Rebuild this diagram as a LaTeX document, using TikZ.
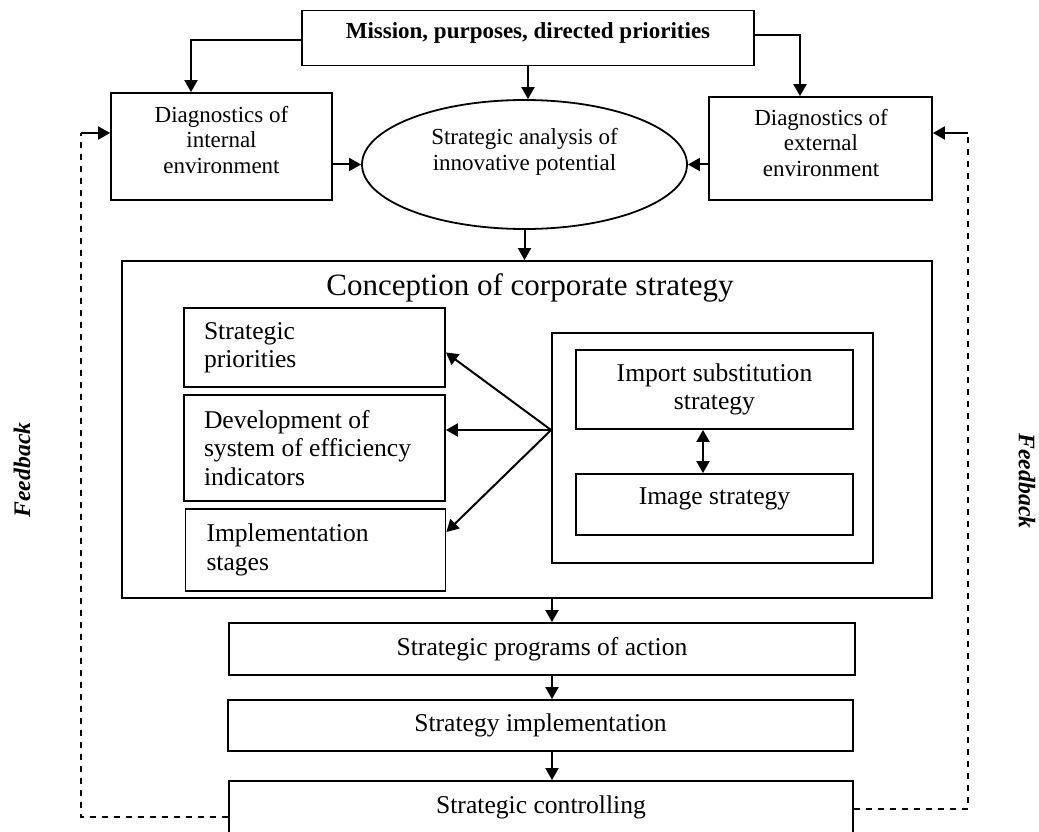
\documentclass[tikz,border=0pt]{standalone}
\usepackage{fontspec}
\setmainfont{Liberation Serif}
\usetikzlibrary{arrows.meta,shapes.geometric,calc}
\tikzset{
  box/.style={draw, line width=1.8pt, inner sep=0pt, align=center},
  sz/.style 2 args={minimum width=#1, minimum height=#2},
  conn/.style={line width=2pt, -{Triangle[length=12pt,width=13pt]}},
  dconn/.style={line width=2pt, {Triangle[length=12pt,width=13pt]}-{Triangle[length=12pt,width=13pt]}},
  fb/.style={line width=1.6pt, dash pattern=on 6pt off 6pt},
  fsmall/.style={font=\fontsize{23}{25.5}\selectfont},
  fmed/.style={font=\fontsize{25.6}{28.5}\selectfont},
  fbig/.style={font=\fontsize{31}{36}\selectfont},
  lbl/.style={inner sep=0pt, align=center},
  lbox/.style={box, fmed, align=flush left, inner xsep=20pt},
}
\begin{document}
\begin{tikzpicture}[x=1pt,y=-1pt]
\path[use as bounding box, clip] (0,0) rectangle (1039,832);
% top row
\node[box, sz={452pt}{55pt}] (mis) at (528,38) {};
\node[lbl, font=\fontsize{23}{25.5}\selectfont\bfseries] (misT) at (528,33) {Mission, purposes, directed priorities};
\node[box, sz={221pt}{107pt}] (int) at (221.5,146.5) {};
\node[lbl, fsmall] (intT) at (221.5,140) {Diagnostics of\\internal\\environment};
\node[box, sz={223pt}{103pt}] (ext) at (820.5,148.5) {};
\node[lbl, fsmall] (extT) at (821,143) {Diagnostics of\\external\\environment};
\node[draw, ellipse, line width=1.8pt, inner sep=0pt, sz={325pt}{129pt}] (ell) at (524.5,164.5) {};
\node[lbl, fsmall] (ellT) at (524.5,152) {Strategic analysis of\\innovative potential};
% conception
\node[box, sz={810pt}{337pt}] (con) at (527,429.5) {};
\node[lbl, fbig] (conT) at (530,288) {Conception of corporate strategy};
\node[lbox, sz={261pt}{79pt}, text width=221pt] (pri) at (314.5,347.5) {Strategic\\priorities};
\node[lbox, sz={261pt}{106pt}, text width=221pt] (dev) at (314.5,448) {Development of\\system of efficiency\\indicators};
\node[lbox, sz={259pt}{82pt}, text width=218pt, inner xsep=21pt] (stg) at (315.5,550) {Implementation\\stages};
\node[box, sz={321pt}{230pt}] (grp) at (712.5,448) {};
\node[box, fmed, sz={277pt}{79pt}] (imps) at (714.5,389.5) {Import substitution\\strategy};
\node[box, sz={277pt}{61pt}] (img) at (714.5,504.5) {};
\node[lbl, fmed] (imgT) at (714.5,499) {Image strategy};
% bottom
\node[box, fmed, sz={626pt}{52pt}] (prg) at (542,649) {Strategic programs of action};
\node[box, fmed, sz={625pt}{51pt}] (sim) at (540.5,725.5) {Strategy implementation};
\node[box, sz={624pt}{76pt}] (ctl) at (541,819) {};
\node[lbl, fmed] (ctlT) at (541,807) {Strategic controlling};
% feedback labels
\node[lbl, rotate=90, font=\fontsize{23.7}{26}\selectfont\bfseries\itshape] (fbl) at (22,470) {Feedback};
\node[lbl, rotate=-90, font=\fontsize{23.7}{26}\selectfont\bfseries\itshape] (fbr) at (1027,481) {Feedback};
% connectors
\draw[conn] ([yshift=-2pt]mis.west) -| ([xshift=-30.5pt]int.north);
\draw[conn] (mis.south) -- (mis.south |- ell.north);
\draw[conn] ([yshift=3pt]mis.east) -| ([xshift=-20.5pt]ext.north);
\draw[conn] (int.east |- ell.west) -- (ell.west);
\draw[conn] (ext.west |- ell.east) -- (ell.east);
\draw[conn] (ell.south) -- (ell.south |- con.north);
\coordinate (src) at ([yshift=18pt]grp.west);
\draw[conn] (src) -- ([yshift=-5pt]pri.east);
\draw[conn] (src) -- (src -| dev.east);
\draw[conn] (src) -- ([yshift=18pt]stg.east);
\draw[dconn] ([xshift=-11.5pt]imps.south) -- ([xshift=-11.5pt]img.north);
\draw[conn] ([xshift=25pt]con.south) -- ([xshift=25pt]con.south |- prg.north);
\draw[conn] ([xshift=10pt]prg.south) -- ([xshift=10pt]prg.south |- sim.north);
\draw[conn] ([xshift=11.5pt]sim.south) -- ([xshift=11.5pt]sim.south |- ctl.north);
% feedback
\coordinate (fl) at (81,133);
\coordinate (fr) at (968,133);
\draw[fb] ([yshift=2pt]ctl.west) -| (fl);
\draw[conn] (fl) -- (fl -| int.west);
\draw[fb] ([yshift=10pt]ctl.east) -| (fr);
\draw[conn] (fr) -- (fr -| ext.east);
\end{tikzpicture}
\end{document}
